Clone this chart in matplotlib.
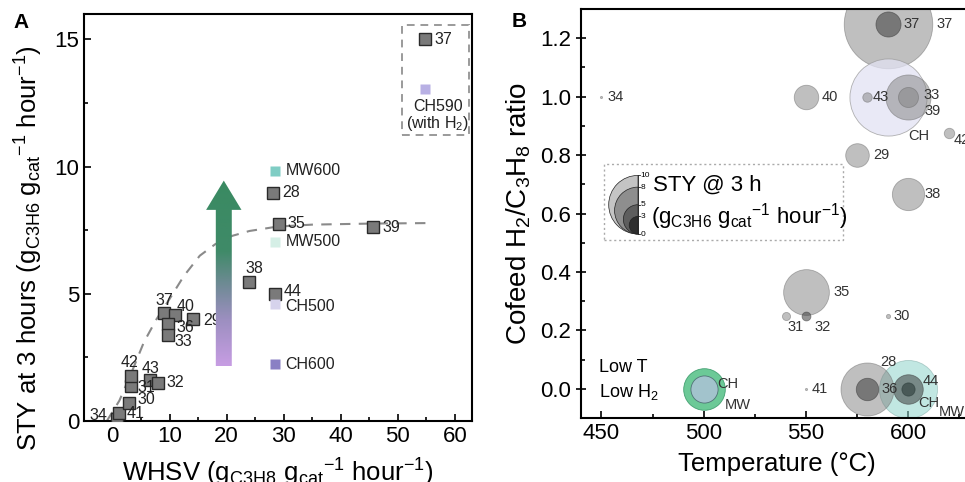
import numpy as np
import matplotlib
matplotlib.use("Agg")
from matplotlib import pyplot as plt
from matplotlib.patches import Polygon, Rectangle, Wedge
from matplotlib.colors import LinearSegmentedColormap
from matplotlib.ticker import MultipleLocator

plt.rcParams['font.family'] = ['Liberation Sans', 'DejaVu Sans']
plt.rcParams['mathtext.fontset'] = 'custom'
plt.rcParams['mathtext.rm'] = 'Liberation Sans'
plt.rcParams['mathtext.it'] = 'Liberation Sans:italic'
plt.rcParams['mathtext.bf'] = 'Liberation Sans:bold'
plt.rcParams['mathtext.default'] = 'regular'

# ---- data, panel A (WHSV vs STY) ----
ref_a = ['34', '41', '30', '31', '42', '43', '32', '37', '40', '36', '33', '29',
         '38', '44', '35', '28', '39', '37']
whsv_a = [0.7, 1.2, 2.8, 3.3, 3.2, 6.5, 7.9, 9.0, 10.9, 9.7, 9.7, 14.1,
          23.9, 28.4, 29.1, 28.1, 45.6, 54.7]
sty_a = [0.08, 0.31, 0.71, 1.38, 1.77, 1.6, 1.5, 4.25, 4.15, 3.8, 3.4, 4.0,
         5.47, 5.0, 7.75, 8.98, 7.64, 15.0]

own_a = ['MW600', 'MW500', 'CH500', 'CH600', 'CH590']
own_whsv = [28.4, 28.4, 28.4, 28.4, 54.7]
own_sty = [9.84, 7.05, 4.6, 2.24, 13.07]

# trend line
fit_whsv = [-1.0, 1.2, 3.5, 5.5, 7.7, 10.0, 12.5, 15.3, 18.0, 21.0, 24.0, 28.8, 35.0, 45.0, 55.0]
fit_sty = [0.0, 0.8, 2.0, 3.1, 4.0, 4.8, 5.7, 6.5, 6.95, 7.28, 7.47, 7.64, 7.72, 7.76, 7.78]

# ---- data, panel B (temperature vs H2 ratio, bubble = STY) ----
names_b = ['37', '37', 'CH590', '39', '33', '43', '40', '34', '42', '29', '38', '35',
           '31', '32', '30', '41', '28', '36', 'MW600', '44', 'CH600', 'MW500', 'CH500']
temp_b = [590, 590, 590, 600, 600, 580, 550, 450, 620, 575, 600, 550,
          540, 550, 590, 550, 580, 580, 600, 600, 600, 500, 500]
ratio_b = [1.25, 1.25, 1.0, 1.0, 1.0, 1.0, 1.0, 1.0, 0.875, 0.8, 0.667, 0.333,
           0.25, 0.25, 0.25, 0.0, 0.0, 0.0, 0.0, 0.0, 0.0, 0.0, 0.0]
sty_b = [15.0, 4.25, 13.07, 7.64, 3.4, 1.6, 4.15, 0.08, 1.77, 4.0, 5.47, 7.75,
         1.38, 1.5, 0.71, 0.31, 8.98, 3.8, 9.84, 5.0, 2.24, 7.05, 4.6]

legend_sty = [10, 8, 5, 3, 0]

# ---- styles / layout ----
PX = 0.72  # points per pixel at dpi 100
own_colors = {'MW600': '#7fcdc4', 'MW500': '#d5efe6', 'CH500': '#d6d3ec',
              'CH600': '#8a80c4', 'CH590': '#b8b0e4'}
# label offsets (px) for panel A, same order as ref_a
off_a = [(-9, 3, 'right'), (7, 0, 'left'), (9, 3, 'left'), (6, -2, 'left'),
         (-1, 13, 'center'), (1, 12, 'center'), (9, 0, 'left'), (0, 12, 'center'),
         (2, 9, 'left'), (9, -3, 'left'), (7, -7, 'left'), (10, -1, 'left'),
         (5, 13, 'center'), (9, 2, 'left'), (9, 0, 'left'), (9, 0, 'left'),
         (10, -1, 'left'), (10, 0, 'left')]
off_own = [(11, 0), (11, 0), (11, -3), (11, 0)]

off_b = [(49, 0, 'left'), (16, 0, 'left'), (20, -39, 'left'), (16, -14, 'left'),
         (15, 2, 'left'), (5, 0, 'left'), (16, 0, 'left'), (6, 0, 'left'),
         (4, -7, 'left'), (16, 0, 'left'), (16, 0, 'left'), (27, 0, 'left'),
         (10, -11, 'center'), (17, -11, 'center'), (6, 0, 'left'), (6, 0, 'left'),
         (13, 27, 'left'), (14, 0, 'left'), (30, -23, 'left'), (14, 8, 'left'),
         (10, -14, 'left'), (21, -16, 'left'), (13, 5, 'left')]
dark_idx = {1, 13, 17, 19}
bubble_style = {
    'CH590': dict(fc='#e2e2f3', alpha=0.75, ec='#999999'),
    'MW600': dict(fc='#8fd4cb', alpha=0.55, ec='#80aaa6'),
    'CH600': dict(fc='#2a3a38', alpha=0.6, ec='#2a3a38'),
    'MW500': dict(fc='#5cc38c', alpha=0.9, ec='#3a9a6a'),
    'CH500': dict(fc='#a9c3d2', alpha=0.9, ec='#4a6a70'),
}

fig = plt.figure(figsize=(9.65, 4.82), dpi=100)
ax_a = fig.add_axes([84 / 965, 1 - 421 / 482, 388 / 965, 407 / 482])
ax_b = fig.add_axes([581 / 965, 1 - 418 / 482, 392 / 965, 409 / 482])

# ================= Panel A =================
ax_a.plot(fit_whsv, fit_sty, color='#8a8a8a', lw=1.5, dashes=(5, 4), zorder=2)
ax_a.plot(whsv_a, sty_a, 's', ms=8, mfc='#7a7a7a', mec='#2a2a2a', mew=1.0, ls='none', zorder=3)
for name, x, y, (dx, dy, ha) in zip(ref_a, whsv_a, sty_a, off_a):
    ax_a.annotate(name, (x, y), xytext=(dx * PX, dy * PX), textcoords='offset points',
                  ha=ha, va='center', fontsize=11.5, color='#222222', zorder=3)

for name, x, y in zip(own_a, own_whsv, own_sty):
    ax_a.plot(x, y, 's', ms=7.5, mfc=own_colors[name], mec='none', zorder=3)
for name, x, y, (dx, dy) in zip(own_a[:4], own_whsv, own_sty, off_own):
    ax_a.annotate(name, (x, y), xytext=(dx * PX, dy * PX), textcoords='offset points',
                  ha='left', va='center', fontsize=11.5, color='#222222')
ax_a.annotate('CH590\n(with H$_2$)', (own_whsv[4], own_sty[4]), xytext=(13 * PX, -10 * PX),
              textcoords='offset points', ha='center', va='top', multialignment='center',
              fontsize=11.5, color='#222222', linespacing=1.0)

ax_a.add_patch(Rectangle((50.7, 11.26), 11.8, 4.29, fill=False, ec='#9a9a9a', lw=1.4,
                         ls=(0, (4, 3)), zorder=2))

# gradient arrow
cmap = LinearSegmentedColormap.from_list('arr', [(0, '#c79de3'), (0.25, '#9c8fc0'),
                                                 (0.45, '#6c8a92'), (0.62, '#3f8a68'),
                                                 (1, '#3a8a62')])
arrow_pts = [(18.1, 2.15), (20.9, 2.15), (20.9, 8.3), (22.6, 8.3), (19.5, 9.45),
             (16.4, 8.3), (18.1, 8.3)]
poly = Polygon(arrow_pts, closed=True, fc='none', ec='none')
ax_a.add_patch(poly)
im = ax_a.imshow(np.linspace(0, 1, 256).reshape(-1, 1), cmap=cmap, origin='lower',
                 extent=[16.4, 22.6, 2.15, 9.45], aspect='auto', zorder=4)
im.set_clip_path(poly)

ax_a.set_xlim(-5, 63)
ax_a.set_ylim(0, 16)
ax_a.xaxis.set_major_locator(MultipleLocator(10))
ax_a.xaxis.set_minor_locator(MultipleLocator(5))
ax_a.yaxis.set_major_locator(MultipleLocator(5))
ax_a.yaxis.set_minor_locator(MultipleLocator(2.5))
ax_a.tick_params(which='both', direction='in', labelsize=16, width=1.2)
ax_a.tick_params(which='major', length=5)
ax_a.tick_params(which='minor', length=3)
ax_a.set_xlabel('WHSV (g$_{C3H8}$ g$_{cat}$$^{-1}$ hour$^{-1}$)', fontsize=18.5, labelpad=7)
ax_a.set_ylabel('STY at 3 hours (g$_{C3H6}$ g$_{cat}$$^{-1}$ hour$^{-1}$)', fontsize=18.5)
ax_a.yaxis.set_label_coords(-0.10, 0.425)
for s in ax_a.spines.values():
    s.set_linewidth(1.5)

# ================= Panel B =================
k = 2 * PX * 2.95
order = np.argsort(sty_b)[::-1]
for rank, i in enumerate(order):
    name = names_b[i]
    size = max((k * sty_b[i]) ** 2, 2.5)
    if name in bubble_style:
        st = bubble_style[name]
    elif i in dark_idx:
        st = dict(fc='#3c3c3c', alpha=0.55, ec='#3c3c3c')
    else:
        st = dict(fc='#808080', alpha=0.5, ec='#6a6a6a')
    ax_b.scatter(temp_b[i], ratio_b[i], s=size, c=st['fc'], alpha=st['alpha'],
                 edgecolors=st['ec'], linewidths=0.6, zorder=2 + rank * 0.01, clip_on=True)

for name, x, y, (dx, dy, ha) in zip(names_b, temp_b, ratio_b, off_b):
    label = name.rstrip('0123456789') if name[:2] in ('CH', 'MW') else name
    ax_b.annotate(label, (x, y), xytext=(dx * PX, dy * PX), textcoords='offset points',
                  ha=ha, va='center', fontsize=10.5, color='#333333', zorder=5,
                  annotation_clip=False)

ax_b.text(448.8, 0.073, 'Low T', fontsize=13, va='center', ha='left')
ax_b.text(448.8, -0.012, 'Low H$_2$', fontsize=13, va='center', ha='left')

ax_b.add_patch(Rectangle((451.2, 0.511), 116.8, 0.257, fill=False, ec='#aaaaaa', lw=1.0,
                         ls=(0, (1.5, 2)), zorder=1))

ax_b.set_xlim(440, 631.6)
ax_b.set_ylim(-0.1, 1.3)
ax_b.xaxis.set_major_locator(MultipleLocator(50))
ax_b.xaxis.set_minor_locator(MultipleLocator(25))
ax_b.yaxis.set_major_locator(MultipleLocator(0.2))
ax_b.yaxis.set_minor_locator(MultipleLocator(0.1))
ax_b.yaxis.set_major_formatter(plt.FuncFormatter(lambda v, p: f'{v:.1f}'))
ax_b.tick_params(which='both', direction='in', labelsize=16, width=1.2)
ax_b.tick_params(axis='y', which='major', direction='inout', length=7)
ax_b.tick_params(axis='x', which='major', length=5)
ax_b.tick_params(which='minor', length=3)
ax_b.set_xlabel('Temperature (°C)', fontsize=18.5, labelpad=6)
ax_b.set_ylabel('Cofeed H$_2$/C$_3$H$_8$ ratio', fontsize=20, labelpad=5)
for s in ax_b.spines.values():
    s.set_linewidth(1.5)

# bubble size legend glyph
ax_leg = fig.add_axes([600 / 965, 1 - 240 / 482, 60 / 965, 70 / 482])
ax_leg.set_xlim(0, 60)
ax_leg.set_ylim(0, 70)
ax_leg.axis('off')
leg_colors = ['#c4c4c4', '#8e8e8e', '#5e5e5e', '#2e2e2e']
for v, c in zip(legend_sty[:-1], leg_colors):
    r = 2.93 * v
    ax_leg.add_patch(Wedge((38, 6 + r), r, 90, 270, fc=c, ec='#222222', lw=0.5))
for v in legend_sty:
    yy = 6 + 2 * 2.93 * v
    ax_leg.plot([38, 40], [yy, yy], color='#222222', lw=0.6)
    ax_leg.text(40.5, yy, str(v), fontsize=6, va='center', ha='left')
ax_leg.plot([38, 38], [6, 6 + 2 * 2.93 * 10], color='#222222', lw=0.6)

fig.text(653 / 965, 1 - 185 / 482, 'STY @ 3 h', fontsize=16, va='center', ha='left')
fig.text(651 / 965, 1 - 217 / 482, '(g$_{C3H6}$ g$_{cat}$$^{-1}$ hour$^{-1}$)', fontsize=16,
         va='center', ha='left')

# panel letters
fig.text(13 / 965, 1 - 28 / 482, 'A', fontsize=15, fontweight='bold', va='baseline')
fig.text(512 / 965, 1 - 27 / 482, 'B', fontsize=15, fontweight='bold', va='baseline')

fig.savefig('out.png', dpi=100)
